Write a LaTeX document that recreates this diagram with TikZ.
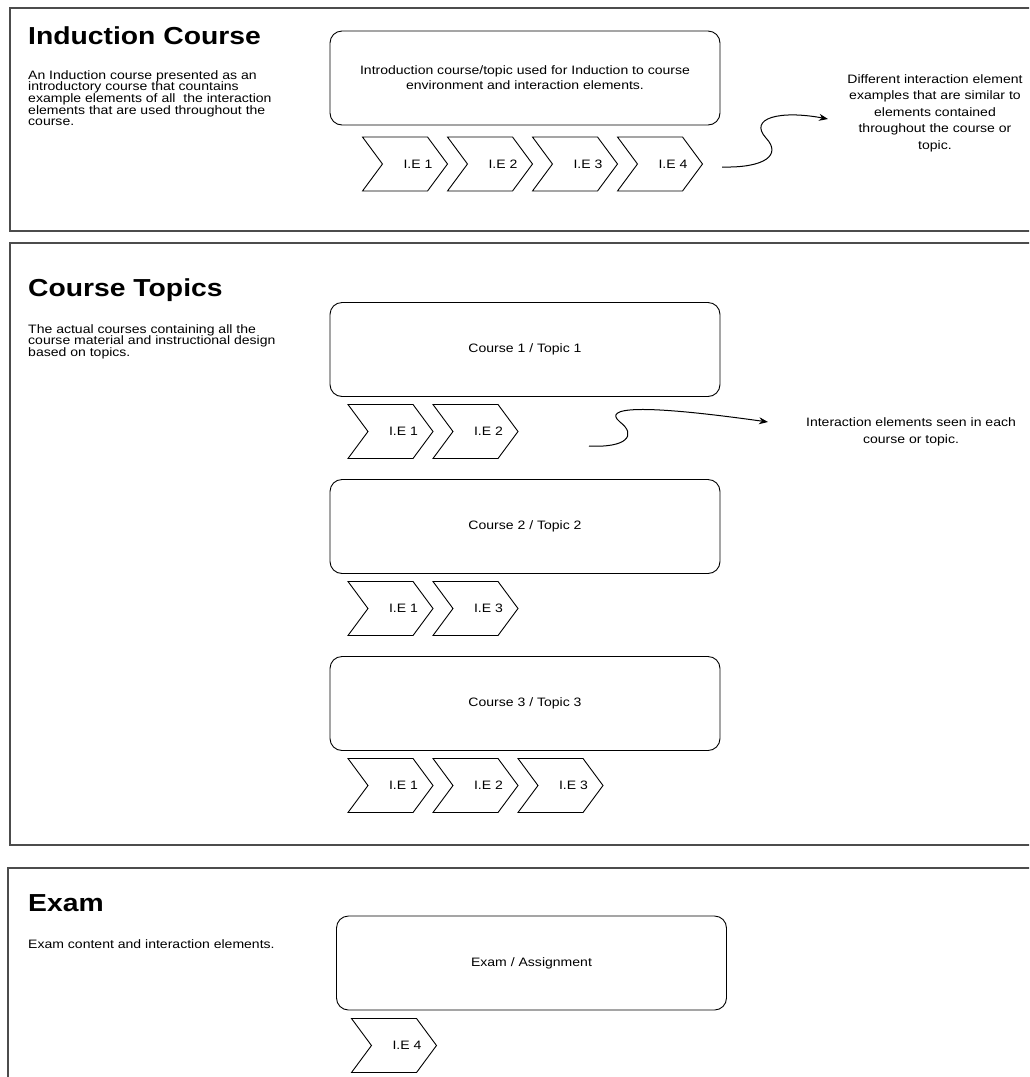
\documentclass[tikz,border=0pt]{standalone}
\usepackage{fontspec}
\setmainfont{Liberation Sans}[FakeStretch=1.15]
\usetikzlibrary{positioning, shapes.symbols, arrows.meta}

\begin{document}
\begin{tikzpicture}[x=1pt,y=-1pt,node distance=85pt,on grid,
  sec/.style={draw=black!70,line width=1.4pt},
  box/.style={draw,line width=0.9pt,rounded corners=12pt,minimum width=390pt,minimum height=94pt,align=center,font=\fontsize{12.2}{15}\selectfont},
  ie/.style={draw,line width=0.9pt,signal,signal from=west,signal to=east,signal pointer angle=107,minimum width=85pt,minimum height=54pt,inner sep=0pt,
    label={[font=\fontsize{12.2}{14}\selectfont,inner sep=0pt,xshift=13pt]center:#1}},
  title/.style={anchor=west,inner sep=0pt,font=\fontsize{24.6}{28}\selectfont\bfseries},
  desc/.style={anchor=north west,align=left,inner sep=0pt,font=\fontsize{12.2}{11.7}\selectfont},
  note/.style={align=center,inner sep=0pt,font=\fontsize{12.2}{16.5}\selectfont},
  wave/.style={-{Stealth[length=9pt,width=7pt]},line width=1pt}]
  \useasboundingbox (0,0) rectangle (1029,1077);
  \clip (0,0) rectangle (1029,1077);

  \draw[sec] (10,8) rectangle (1040,231);
  \draw[sec] (10,243) rectangle (1040,845);
  \draw[sec] (8,868) rectangle (1040,1090);

  \node[title] (t_1) at (28,36) {Induction Course};
  \node[desc] (d_1) at (28,70) {An Induction course presented as an\\introductory course that countains\\example elements of all\ \ the interaction\\elements that are used throughout the\\course.};
  \node[box] (c_0) at (525,78) {Introduction course/topic used for Induction to course\\environment and interaction elements.};
  \node[ie=I.E 1] (e_01) at (405,164) {};
  \node[ie=I.E 2] (e_02) [right=of e_01] {};
  \node[ie=I.E 3] (e_03) [right=of e_02] {};
  \node[ie=I.E 4] (e_04) [right=of e_03] {};
  \node[note] (n_1) at (935,113) {Different interaction element\\examples that are similar to\\elements contained\\throughout the course or\\topic.};
  \coordinate (w_1a) at (722,167);
  \coordinate (w_1b) at (828,119);
  \draw[wave] (w_1a) .. controls (765,168) and (782,155) .. (766,138)
    .. controls (748,118) and (780,110) .. (w_1b);

  \node[title] (t_2) at (28,290) {Course Topics};
  \node[desc] (d_2) at (28,324) {The actual courses containing all the\\course material and instructional design\\based on topics.};
  \node[box] (c_1) at (525,349.5) {Course 1 / Topic 1};
  \node[ie=I.E 1] (e_11) at (390.5,431.5) {};
  \node[ie=I.E 2] (e_12) [right=of e_11] {};
  \node[note] (n_2) at (911,432) {Interaction elements seen in each\\course or topic.};
  \coordinate (w_2a) at (589,446);
  \coordinate (w_2b) at (768,422);
  \draw[wave] (w_2a) .. controls (627,448) and (637,435) .. (620,422)
    .. controls (602,407) and (640,404) .. (w_2b);

  \node[box] (c_2) at (525,526.5) {Course 2 / Topic 2};
  \node[ie=I.E 1] (e_21) at (390.5,608.5) {};
  \node[ie=I.E 3] (e_23) [right=of e_21] {};

  \node[box] (c_3) at (525,703.5) {Course 3 / Topic 3};
  \node[ie=I.E 1] (e_31) at (390.5,785.5) {};
  \node[ie=I.E 2] (e_32) [right=of e_31] {};
  \node[ie=I.E 3] (e_33) [right=of e_32] {};

  \node[title] (t_3) at (28,903) {Exam};
  \node[desc] (d_3) at (28,939) {Exam content and interaction elements.};
  \node[box] (c_4) at (531.5,963) {Exam / Assignment};
  \node[ie=I.E 4] (e_44) at (394,1045.5) {};
\end{tikzpicture}
\end{document}
